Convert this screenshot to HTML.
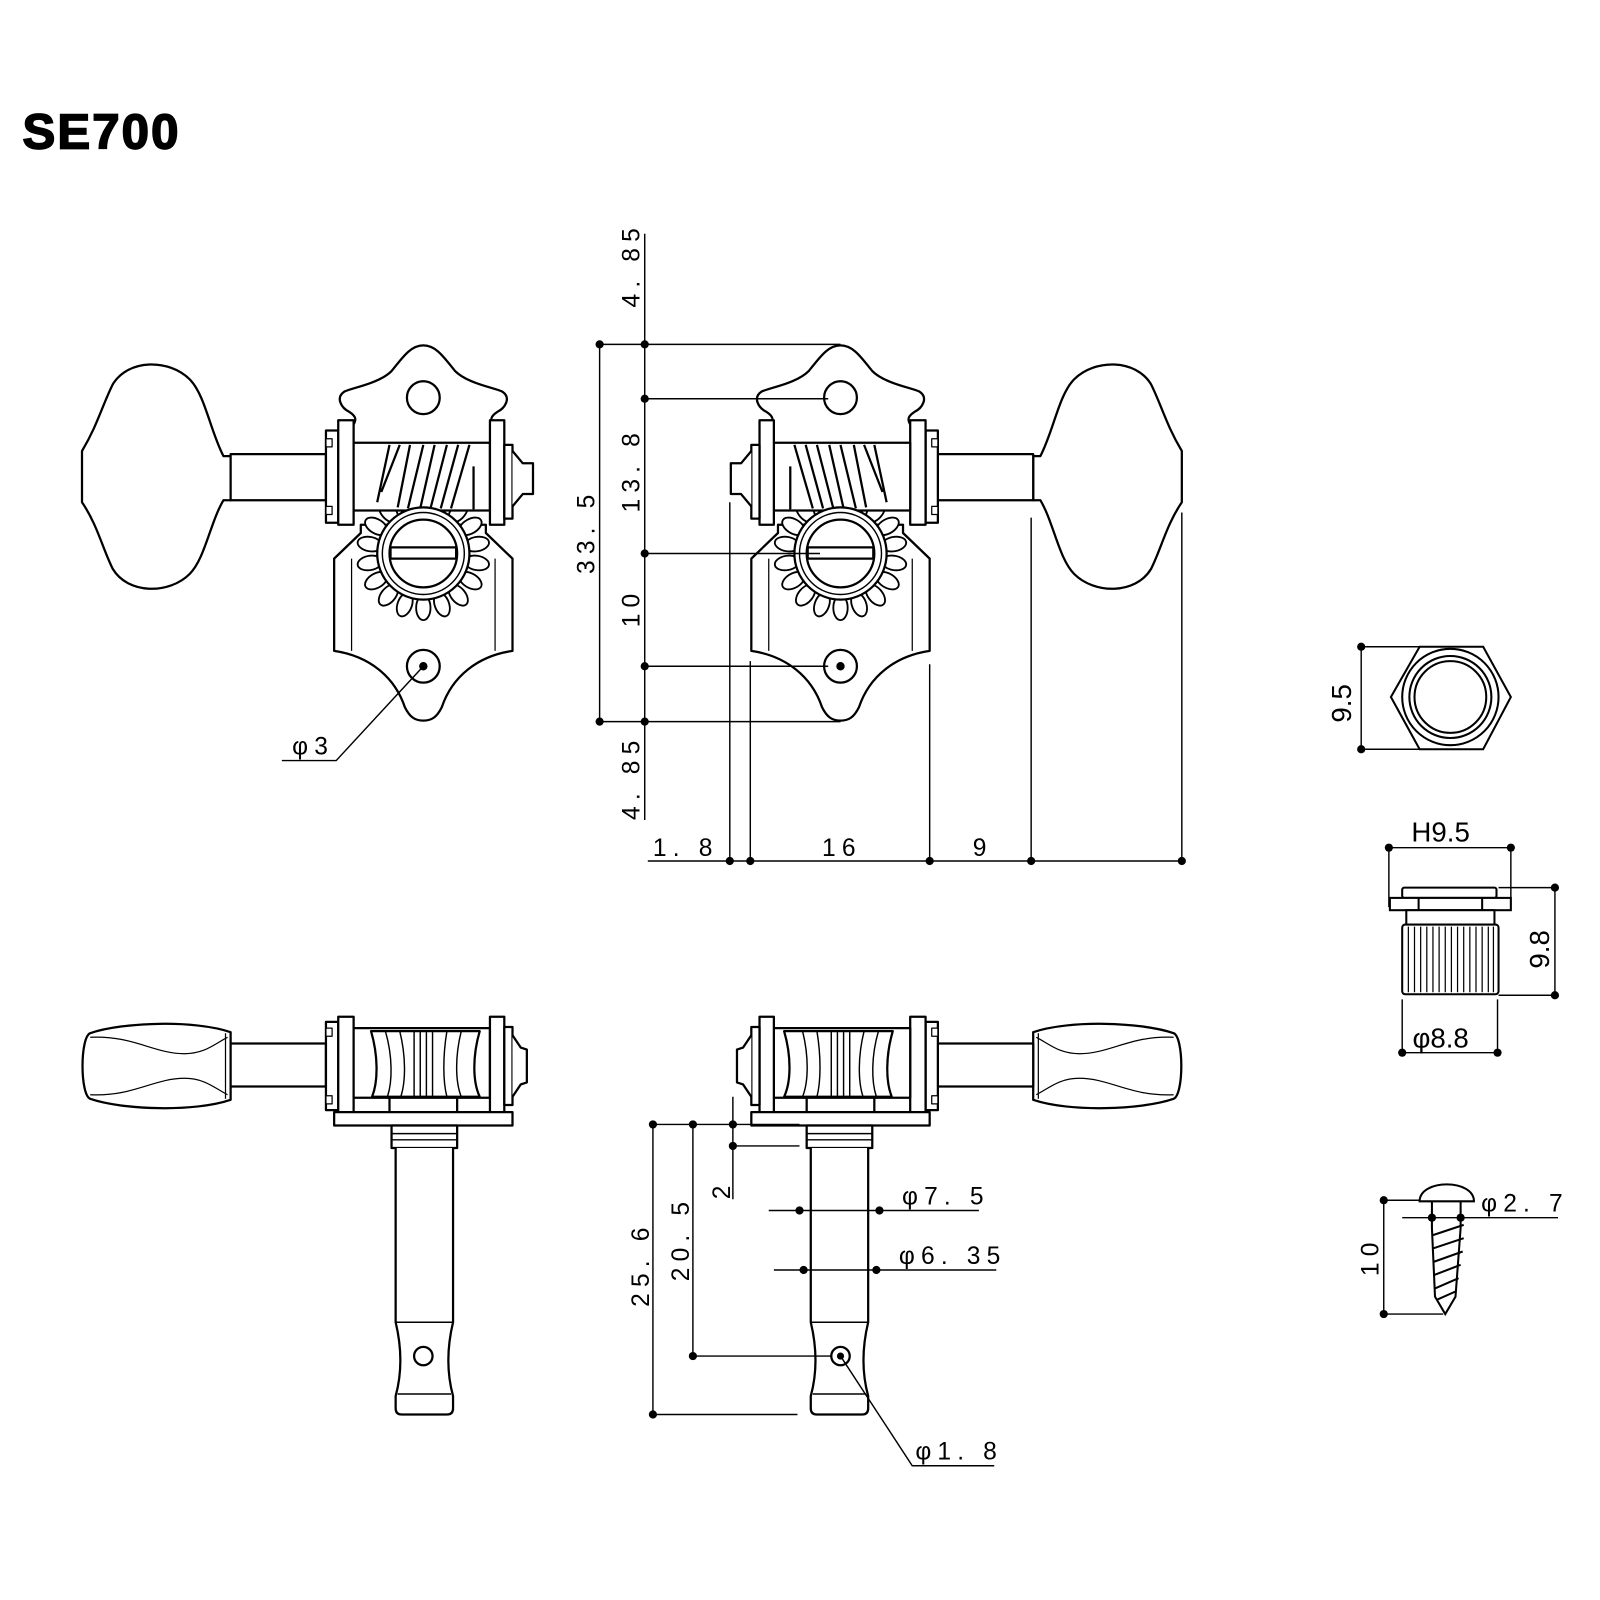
<!DOCTYPE html>
<html><head><meta charset="utf-8"><style>
html,body{margin:0;padding:0;background:#fff}
svg{display:block}
text{font-family:"Liberation Sans","DejaVu Sans",sans-serif;fill:#000}
.d{font-size:24px;letter-spacing:6px}
</style></head><body>
<svg width="1600" height="1600" viewBox="0 0 1600 1600" xmlns="http://www.w3.org/2000/svg">
<rect width="1600" height="1600" fill="#fff"/>
<g transform="scale(1.025)">
<defs>
<g id="top" stroke="#000" stroke-width="2.2" fill="#fff" stroke-linejoin="round">
  <path d="M225,445 L218,445 C205,420 200,385 185,370 C165,350 125,350 110,375 C100,395 95,415 80,440 L80,490 C95,512 100,535 110,555 C125,580 165,580 185,560 C200,545 205,510 218,488 L225,488 Z"/>
  <rect x="225" y="443" width="93" height="45"/>
  <path d="M345,414 C348,409 347,406 341,402 C333,398 327,388 336,382 C345,378 370,374 382,362 C392,350 400,337 413,337 C426,337 434,350 444,362 C456,374 481,378 490,382 C499,388 493,398 485,402 C479,406 478,409 481,414"/>
  <path d="M352,512 L352,520 L326,545 L326,635 C360,640 385,660 395,690 C400,700 405,703 413,703 C421,703 426,700 431,690 C441,660 466,640 500,635 L500,545 L474,520 L474,512 Z"/>
  <line x1="343" y1="545" x2="343" y2="635" stroke-width="1.2"/>
  <line x1="483" y1="545" x2="483" y2="635" stroke-width="1.2"/>
  <circle cx="413" cy="388" r="16"/>
  <circle cx="413" cy="650" r="16"/>
  <circle cx="413" cy="650" r="3" fill="#000"/>
  <rect x="318" y="420" width="12" height="90"/>
  <rect x="318" y="428" width="6" height="8" stroke-width="1.2"/>
  <rect x="318" y="494" width="6" height="8" stroke-width="1.2"/>
  <rect x="330" y="410" width="15" height="102"/>
  <g stroke-width="1.8">
   <ellipse cx="413" cy="487" rx="7" ry="12"/>
   <ellipse cx="413" cy="487" rx="7" ry="12" transform="rotate(20 413 540)"/>
   <ellipse cx="413" cy="487" rx="7" ry="12" transform="rotate(40 413 540)"/>
   <ellipse cx="413" cy="487" rx="7" ry="12" transform="rotate(60 413 540)"/>
   <ellipse cx="413" cy="487" rx="7" ry="12" transform="rotate(80 413 540)"/>
   <ellipse cx="413" cy="487" rx="7" ry="12" transform="rotate(100 413 540)"/>
   <ellipse cx="413" cy="487" rx="7" ry="12" transform="rotate(120 413 540)"/>
   <ellipse cx="413" cy="487" rx="7" ry="12" transform="rotate(140 413 540)"/>
   <ellipse cx="413" cy="487" rx="7" ry="12" transform="rotate(160 413 540)"/>
   <ellipse cx="413" cy="487" rx="7" ry="12" transform="rotate(180 413 540)"/>
   <ellipse cx="413" cy="487" rx="7" ry="12" transform="rotate(200 413 540)"/>
   <ellipse cx="413" cy="487" rx="7" ry="12" transform="rotate(220 413 540)"/>
   <ellipse cx="413" cy="487" rx="7" ry="12" transform="rotate(240 413 540)"/>
   <ellipse cx="413" cy="487" rx="7" ry="12" transform="rotate(260 413 540)"/>
   <ellipse cx="413" cy="487" rx="7" ry="12" transform="rotate(280 413 540)"/>
   <ellipse cx="413" cy="487" rx="7" ry="12" transform="rotate(300 413 540)"/>
   <ellipse cx="413" cy="487" rx="7" ry="12" transform="rotate(320 413 540)"/>
   <ellipse cx="413" cy="487" rx="7" ry="12" transform="rotate(340 413 540)"/>
  </g>
  <rect x="345" y="432" width="133" height="66"/>
  <path d="M380,434 L368,490 M390,434 L372,480 M400,434 L388,495 M413,434 L398,496 M424,434 L410,496 M436,434 L420,496 M447,434 L430,496 M458,434 L440,496 M462,455 L462,497" stroke-width="2.2" fill="none"/>
  <rect x="478" y="410" width="14" height="102"/>
  <rect x="492" y="434" width="8" height="72"/>
  <path d="M500,440 L510,452 L520,452 L520,482 L510,482 L500,494"/>
  <circle cx="413" cy="540" r="45"/>
  <circle cx="413" cy="540" r="40" stroke-width="1.4"/>
  <circle cx="413" cy="540" r="33"/>
  <rect x="381" y="534" width="64" height="11"/>
</g>
<g id="bot" stroke="#000" stroke-width="2.2" fill="#fff" stroke-linejoin="round">
  <path d="M225,1007 C190,995 120,997 88,1008 C78,1012 78,1068 88,1072 C120,1083 190,1085 225,1073 Z"/>
  <path d="M88,1012 C130,1010 150,1028 180,1028 C200,1028 210,1018 222,1012 M88,1068 C130,1070 150,1052 180,1052 C200,1052 210,1062 222,1068" fill="none" stroke-width="1.2"/>
  <line x1="220" y1="1008" x2="220" y2="1072" stroke-width="1.2"/>
  <rect x="225" y="1018" width="93" height="42"/>
  <rect x="318" y="997" width="12" height="86"/>
  <rect x="318" y="1003" width="6" height="8" stroke-width="1.2"/>
  <rect x="318" y="1069" width="6" height="8" stroke-width="1.2"/>
  <rect x="330" y="992" width="15" height="93"/>
  <rect x="345" y="1003" width="133" height="68"/>
  <rect x="380" y="1071" width="66" height="14"/>
  <path d="M362,1006 C369,1030 369,1055 363,1070 L468,1070 C461,1055 461,1030 468,1006 Z"/>
  <path d="M376,1006 C383,1030 383,1055 378,1070 M390,1006 C396,1030 396,1055 391,1070 M404,1006 L404,1070 M410,1006 L410,1070 M416,1006 L416,1070 M422,1006 L422,1070 M436,1006 C432,1030 432,1055 436,1070 M450,1006 C444,1030 444,1055 450,1070" fill="none" stroke-width="1.4"/>
  <rect x="478" y="992" width="14" height="93"/>
  <rect x="492" y="1002" width="8" height="76"/>
  <path d="M500,1010 L508,1022 L514,1024 L514,1056 L508,1058 L500,1070"/>
  <rect x="326" y="1085" width="174" height="13"/>
  <rect x="382" y="1098" width="64" height="22"/>
  <line x1="382" y1="1106" x2="446" y2="1106" stroke-width="1.4"/>
  <line x1="382" y1="1112" x2="446" y2="1112" stroke-width="1.4"/>
  <path d="M386,1120 L386,1290 C392,1315 392,1340 386,1362 L386,1374 Q386,1380 392,1380 L436,1380 Q442,1380 442,1374 L442,1362 C436,1340 436,1315 442,1290 L442,1120"/>
  <line x1="386" y1="1290" x2="442" y2="1290" stroke-width="1.4"/>
  <line x1="388" y1="1360" x2="440" y2="1360" stroke-width="1.4"/>
  <circle cx="413" cy="1323" r="9"/>
</g>
</defs>

<text x="22" y="145" font-size="48" font-weight="bold" stroke="#000" stroke-width="1.6" style="font-family:'Liberation Sans',sans-serif;letter-spacing:2px">SE700</text>

<use href="#top"/>
<use href="#top" transform="translate(1233,0) scale(-1,1)"/>
<use href="#bot"/>
<use href="#bot" transform="translate(1233,0) scale(-1,1)"/>

<g stroke="#000" stroke-width="1.4" fill="none">
  <polyline points="413,650 328,742 275,742"/>
  <line x1="629" y1="228" x2="629" y2="800"/>
  <line x1="585" y1="336" x2="585" y2="704"/>
  <line x1="585" y1="336" x2="820" y2="336"/>
  <line x1="629" y1="389" x2="808" y2="389"/>
  <line x1="629" y1="540" x2="800" y2="540"/>
  <line x1="629" y1="650" x2="808" y2="650"/>
  <line x1="585" y1="704" x2="820" y2="704"/>
  <line x1="632" y1="840" x2="1153" y2="840"/>
  <line x1="712" y1="490" x2="712" y2="840"/>
  <line x1="732" y1="645" x2="732" y2="840"/>
  <line x1="907" y1="648" x2="907" y2="840"/>
  <line x1="1006" y1="505" x2="1006" y2="840"/>
  <line x1="1153" y1="500" x2="1153" y2="840"/>
  <line x1="637" y1="1097" x2="780" y2="1097"/>
  <line x1="715" y1="1118" x2="780" y2="1118"/>
  <line x1="637" y1="1097" x2="637" y2="1380"/>
  <line x1="676" y1="1097" x2="676" y2="1323"/>
  <line x1="715" y1="1070" x2="715" y2="1170"/>
  <line x1="637" y1="1380" x2="778" y2="1380"/>
  <line x1="676" y1="1323" x2="812" y2="1323"/>
  <line x1="750" y1="1181" x2="955" y2="1181"/>
  <line x1="755" y1="1239" x2="972" y2="1239"/>
  <polyline points="820,1323 890,1430 970,1430"/>
  <polygon points="1357,680 1385,631 1447,631 1474,680 1447,731 1385,731" stroke-width="2"/>
  <circle cx="1415" cy="680" r="47" stroke-width="2"/>
  <circle cx="1415" cy="680" r="40" stroke-width="2"/>
  <circle cx="1415" cy="680" r="35" stroke-width="2"/>
  <line x1="1328" y1="631" x2="1328" y2="731"/>
  <line x1="1328" y1="631" x2="1385" y2="631"/>
  <line x1="1328" y1="731" x2="1385" y2="731"/>
  <line x1="1355" y1="827" x2="1474" y2="827"/>
  <line x1="1355" y1="827" x2="1355" y2="885"/>
  <line x1="1474" y1="827" x2="1474" y2="885"/>
  <g stroke-width="2" fill="#fff">
    <rect x="1368" y="866" width="92" height="10" rx="2"/>
    <rect x="1356" y="876" width="118" height="12"/>
    <line x1="1384" y1="876" x2="1384" y2="888"/>
    <line x1="1446" y1="876" x2="1446" y2="888"/>
    <rect x="1372" y="888" width="86" height="14"/>
    <rect x="1368" y="902" width="94" height="68" rx="3"/>
  </g>
  <path d="M1374,904 V968 M1380,904 V968 M1386,904 V968 M1392,904 V968 M1398,904 V968 M1404,904 V968 M1410,904 V968 M1416,904 V968 M1422,904 V968 M1428,904 V968 M1434,904 V968 M1440,904 V968 M1446,904 V968 M1452,904 V968 M1457,904 V968" stroke-width="1.2"/>
  <line x1="1462" y1="866" x2="1517" y2="866"/>
  <line x1="1462" y1="971" x2="1517" y2="971"/>
  <line x1="1517" y1="866" x2="1517" y2="971"/>
  <line x1="1368" y1="975" x2="1368" y2="1027"/>
  <line x1="1461" y1="975" x2="1461" y2="1027"/>
  <line x1="1368" y1="1027" x2="1461" y2="1027"/>
  <path d="M1385,1172 C1385,1150 1438,1150 1438,1172 Z" stroke-width="2" fill="#fff"/>
  <path d="M1397,1172 L1397,1198 L1400,1265 L1410,1282 L1420,1265 L1425,1198 L1425,1172" stroke-width="2"/>
  <path d="M1398,1205 L1428,1195 M1398,1218 L1428,1208 M1399,1231 L1427,1221 M1399,1244 L1425,1234 M1400,1257 L1423,1247 M1402,1268 L1420,1260" stroke-width="2"/>
  <line x1="1368" y1="1188" x2="1520" y2="1188"/>
  <line x1="1350" y1="1171" x2="1385" y2="1171"/>
  <line x1="1350" y1="1282" x2="1408" y2="1282"/>
  <line x1="1350" y1="1171" x2="1350" y2="1282"/>
</g>
<g fill="#000">
  <circle cx="413" cy="650" r="3.5"/>
  <circle cx="585" cy="336" r="4"/><circle cx="629" cy="336" r="4"/><circle cx="629" cy="389" r="4"/>
  <circle cx="629" cy="540" r="4"/><circle cx="629" cy="650" r="4"/><circle cx="585" cy="704" r="4"/><circle cx="629" cy="704" r="4"/>
  <circle cx="712" cy="840" r="4"/><circle cx="732" cy="840" r="4"/><circle cx="907" cy="840" r="4"/><circle cx="1006" cy="840" r="4"/><circle cx="1153" cy="840" r="4"/>
  <circle cx="637" cy="1097" r="4"/><circle cx="676" cy="1097" r="4"/><circle cx="715" cy="1097" r="4"/><circle cx="715" cy="1118" r="4"/>
  <circle cx="637" cy="1380" r="4"/><circle cx="676" cy="1323" r="4"/><circle cx="820" cy="1323" r="3.5"/>
  <circle cx="780" cy="1181" r="4"/><circle cx="858" cy="1181" r="4"/><circle cx="784" cy="1239" r="4"/><circle cx="855" cy="1239" r="4"/>
  <circle cx="1328" cy="631" r="4"/><circle cx="1328" cy="731" r="4"/>
  <circle cx="1355" cy="827" r="4"/><circle cx="1474" cy="827" r="4"/>
  <circle cx="1517" cy="866" r="4"/><circle cx="1517" cy="971" r="4"/>
  <circle cx="1368" cy="1027" r="4"/><circle cx="1461" cy="1027" r="4"/>
  <circle cx="1397" cy="1188" r="4"/><circle cx="1425" cy="1188" r="4"/>
  <circle cx="1350" cy="1171" r="4"/><circle cx="1350" cy="1282" r="4"/>
</g>
<g class="d">
  <text x="285" y="736">φ3</text>
  <text transform="translate(624,300) rotate(-90)">4. 85</text>
  <text transform="translate(580,560) rotate(-90)">33. 5</text>
  <text transform="translate(624,500) rotate(-90)">13. 8</text>
  <text transform="translate(624,612) rotate(-90)">10</text>
  <text transform="translate(624,800) rotate(-90)">4. 85</text>
  <text x="637" y="835">1. 8</text>
  <text x="802" y="835">16</text>
  <text x="949" y="835">9</text>
  <text transform="translate(712,1170) rotate(-90)">2</text>
  <text transform="translate(633,1275) rotate(-90)">25. 6</text>
  <text transform="translate(672,1250) rotate(-90)">20. 5</text>
  <text x="880" y="1175">φ7. 5</text>
  <text x="877" y="1233">φ6. 35</text>
  <text x="893" y="1424">φ1. 8</text>
  <text x="1445" y="1182">φ2. 7</text>
  <text transform="translate(1345,1245) rotate(-90)">10</text>
</g>
<g style="font-size:27px">
  <text transform="translate(1318,705) rotate(-90)">9.5</text>
  <text x="1377" y="821">H9.5</text>
  <text transform="translate(1511,945) rotate(-90)">9.8</text>
  <text x="1378" y="1022">φ8.8</text>
</g>
</g>
</svg>
</body></html>
